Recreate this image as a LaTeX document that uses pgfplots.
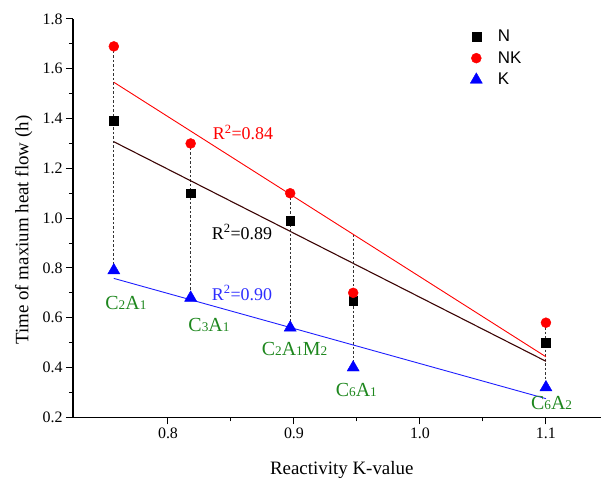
\documentclass[border=0pt]{standalone}
\usepackage{fontspec}
\setmainfont{Liberation Serif}
\newfontfamily\arialfont{Liberation Sans}
\usepackage{pgfplots}
\pgfplotsset{compat=1.18}

\definecolor{fitN}{RGB}{60,5,5}
\definecolor{lblgreen}{RGB}{30,135,30}
\definecolor{kblue}{RGB}{0,0,255}
\definecolor{fitK}{RGB}{30,30,255}
\definecolor{r2blue}{RGB}{45,45,255}

% small digits sitting on the baseline, as in the phase names
\newcommand\sd[1]{{\fontsize{13.3}{14}\selectfont #1}}

\begin{document}
\begin{tikzpicture}
\begin{axis}[
  name=ax,
  at={(0,0)}, anchor=south west,
  scale only axis,
  width=528bp, height=398.3bp,
  xmin=0.7246, xmax=1.1437,
  ymin=0.2, ymax=1.8,
  axis x line*=bottom, axis y line*=left,
  axis line style={-, line width=1.3bp},
  xtick={0.8,0.9,1.0,1.1},
  ytick={0.2,0.4,0.6,0.8,1.0,1.2,1.4,1.6,1.8},
  minor x tick num=1, minor y tick num=1,
  tick align=outside,
  major tick length=7bp, minor tick length=4bp,
  every tick/.style={black, line width=1bp},
  /pgf/number format/assume math mode=true,
  tick label style={font=\fontsize{16}{18}\selectfont},
  xticklabel={\pgfmathprintnumber[fixed,fixed zerofill,precision=1]{\tick}},
  yticklabel={\pgfmathprintnumber[fixed,fixed zerofill,precision=1]{\tick}},
  clip=false,
  legend style={at={(rel axis cs:0.752,0.978)}, anchor=north west,
    draw=none, fill=none, inner sep=0pt,
    font=\arialfont\fontsize{17}{20}\selectfont,
    row sep=4.5bp},
  legend cell align=left,
  legend image code/.code={\path (0,0) (0.88cm,0);
    \draw[#1] plot coordinates {(0.2cm,0cm)};},
]
% vertical guide lines joining the three values of each composition
\addplot[forget plot, black!80, line width=0.9bp, dash pattern=on 2.5bp off 2bp]
  coordinates {(0.757,1.69) (0.757,0.79)};
\addplot[forget plot, black!80, line width=0.9bp, dash pattern=on 2.5bp off 2bp]
  coordinates {(0.818,1.30) (0.818,0.68)};
\addplot[forget plot, black!80, line width=0.9bp, dash pattern=on 2.5bp off 2bp]
  coordinates {(0.897,1.10) (0.897,0.56)};
\addplot[forget plot, black!80, line width=0.9bp, dash pattern=on 2.5bp off 2bp]
  coordinates {(0.947,0.935) (0.947,0.40)};
\addplot[forget plot, black!80, line width=0.9bp, dash pattern=on 2.5bp off 2bp]
  coordinates {(1.10,0.58) (1.10,0.32)};

% linear fits
\addplot[forget plot, red, line width=0.9bp] coordinates {(0.757,1.546) (1.10,0.443)};
\addplot[forget plot, fitN, line width=1.1bp] coordinates {(0.757,1.307) (1.10,0.425)};
\addplot[forget plot, fitK, line width=0.9bp] coordinates {(0.757,0.758) (1.10,0.275)};

% measured values
\addplot[only marks, mark=square*, mark size=4.4bp, black]
  coordinates {(0.757,1.39) (0.818,1.10) (0.897,0.99) (0.947,0.67) (1.10,0.50)};
\addlegendentry{N}
\addplot[only marks, mark=*, mark size=5bp, red]
  coordinates {(0.757,1.69) (0.818,1.30) (0.897,1.10) (0.947,0.70) (1.10,0.58)};
\addlegendentry{NK}
\addplot[only marks, mark=triangle*, mark size=7bp, kblue]
  coordinates {(0.757,0.79) (0.818,0.68) (0.897,0.56) (0.947,0.40) (1.10,0.32)};
\addlegendentry{K}

% coefficients of determination
\node[anchor=base west, text=red, font=\fontsize{18}{20}\selectfont]
  at (axis cs:0.8328,1.314) {R\textsuperscript{2}=0.84};
\node[anchor=base west, text=black, font=\fontsize{18}{20}\selectfont]
  at (axis cs:0.8320,0.916) {R\textsuperscript{2}=0.89};
\node[anchor=base west, text=r2blue, font=\fontsize{18}{20}\selectfont]
  at (axis cs:0.8320,0.671) {R\textsuperscript{2}=0.90};

% phase names
\node[anchor=base west, inner sep=0pt, text=lblgreen, font=\fontsize{20}{22}\selectfont]
  at (axis cs:0.7502,0.634) {C\sd{2}A\sd{1}};
\node[anchor=base west, inner sep=0pt, text=lblgreen, font=\fontsize{20}{22}\selectfont]
  at (axis cs:0.8161,0.544) {C\sd{3}A\sd{1}};
\node[anchor=base west, inner sep=0pt, text=lblgreen, font=\fontsize{20}{22}\selectfont]
  at (axis cs:0.8744,0.448) {C\sd{2}A\sd{1}M\sd{2}};
\node[anchor=base west, inner sep=0pt, text=lblgreen, font=\fontsize{20}{22}\selectfont]
  at (axis cs:0.9331,0.283) {C\sd{6}A\sd{1}};
\node[anchor=base west, inner sep=0pt, text=lblgreen, font=\fontsize{20}{22}\selectfont]
  at (axis cs:1.0881,0.230) {C\sd{6}A\sd{2}};

% axis titles
\node[anchor=base, font=\fontsize{19}{22}\selectfont]
  at (rel axis cs:0.509,-0.1431) {Reactivity K-value};
\node[anchor=base, rotate=90, font=\fontsize{19}{22}\selectfont]
  at (rel axis cs:-0.0847,0.470) {Time of maxium heat flow (h)};
\end{axis}
\pgfresetboundingbox
\path[use as bounding box] ([shift={(-73bp,-61.7bp)}]ax.south west)
  rectangle ([shift={(528bp,417.3bp)}]ax.south west);
\end{tikzpicture}
\end{document}
